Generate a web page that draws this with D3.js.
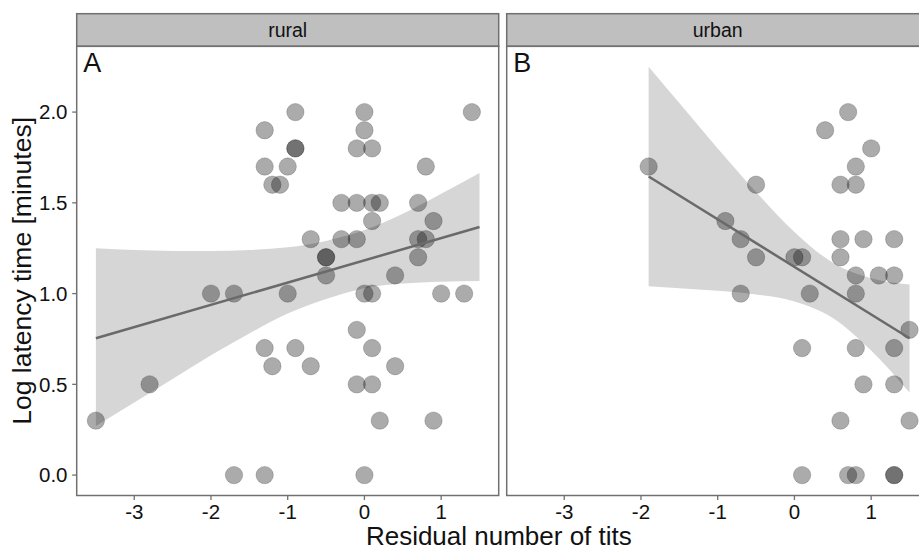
<!DOCTYPE html>
<html>
<head>
<meta charset="utf-8">
<script src="https://cdn.jsdelivr.net/npm/d3@7"></script>
<style>
  body { margin: 0; background: #fff; }
  text { font-family: "Liberation Sans", Arial, sans-serif; fill: #111; }
</style>
</head>
<body>
<svg width="919" height="550"></svg>
<script>
// facet names and panel letters
var facets = ["rural", "urban"];
var letters = ["A", "B"];

// tick values
var xTicks = [-3, -2, -1, 0, 1];
var yTicks = [0, 0.5, 1, 1.5, 2];

// points: residual number of tits vs log latency
var ruralX = [-3.5, -2.8, -2.0, -1.7, -1.7, -1.3, -1.3, -1.3, -1.3, -1.2, -1.2, -1.1, -1.0, -1.0,
  -0.9, -0.9, -0.9, -0.9, -0.7, -0.7, -0.5, -0.5, -0.5, -0.3, -0.3, -0.1, -0.1, -0.1, -0.1, -0.1,
  0.0, 0.0, 0.0, 0.0, 0.1, 0.1, 0.1, 0.1, 0.1, 0.1, 0.2, 0.2, 0.4, 0.4, 0.7, 0.7, 0.7, 0.8, 0.8,
  0.9, 0.9, 1.0, 1.3, 1.4];
var ruralY = [0.3, 0.5, 1.0, 1.0, 0.0, 1.9, 1.7, 0.7, 0.0, 1.6, 0.6, 1.6, 1.7, 1.0,
  2.0, 1.8, 1.8, 0.7, 1.3, 0.6, 1.2, 1.2, 1.1, 1.5, 1.3, 1.8, 1.5, 1.3, 0.8, 0.5,
  2.0, 1.9, 1.0, 0.0, 1.8, 1.5, 1.4, 1.0, 0.7, 0.5, 1.5, 0.3, 1.1, 0.6, 1.5, 1.3, 1.2, 1.7, 1.3,
  1.4, 0.3, 1.0, 1.0, 2.0];

var urbanX = [-1.9, -0.9, -0.7, -0.7, -0.5, -0.5, 0.0, 0.1, 0.1, 0.1, 0.2, 0.4, 0.6, 0.6, 0.6, 0.6,
  0.7, 0.7, 0.8, 0.8, 0.8, 0.8, 0.8, 0.8, 0.9, 0.9, 1.0, 1.1, 1.3, 1.3, 1.3, 1.3, 1.3, 1.3, 1.5, 1.5];
var urbanY = [1.7, 1.4, 1.3, 1.0, 1.6, 1.2, 1.2, 1.2, 0.7, 0.0, 1.0, 1.9, 1.6, 1.3, 1.2, 0.3,
  2.0, 0.0, 1.7, 1.6, 1.1, 1.0, 0.7, 0.0, 1.3, 0.5, 1.8, 1.1, 1.3, 1.1, 0.7, 0.5, 0.0, 0.0, 0.8, 0.3];

// fitted lines
var ruralFitX = [-3.5, 1.5];
var ruralFitY = [0.754, 1.367];
var urbanFitX = [-1.9, 1.5];
var urbanFitY = [1.645, 0.754];

// confidence bands
var ruralBandX = [-3.5, -3, -2.5, -2, -1.5, -1, -0.5, 0, 0.5, 1, 1.5];
var ruralBandLo = [0.27, 0.40, 0.53, 0.66, 0.78, 0.89, 0.97, 1.03, 1.055, 1.065, 1.07];
var ruralBandHi = [1.25, 1.24, 1.235, 1.235, 1.24, 1.255, 1.29, 1.35, 1.44, 1.55, 1.665];
var urbanBandX = [-1.9, -1.5, -1, -0.5, 0, 0.5, 1, 1.5];
var urbanBandLo = [1.04, 1.03, 1.015, 0.995, 0.957, 0.866, 0.686, 0.455];
var urbanBandHi = [2.25, 2.05, 1.80, 1.56, 1.34, 1.17, 1.085, 1.05];

var panelData = [
  {x: ruralX, y: ruralY, fx: ruralFitX, fy: ruralFitY, bx: ruralBandX, blo: ruralBandLo, bhi: ruralBandHi},
  {x: urbanX, y: urbanY, fx: urbanFitX, fy: urbanFitY, bx: urbanBandX, blo: urbanBandLo, bhi: urbanBandHi}
];

svg = d3.select("svg");
panelLeft = [76.7, 506.7];
panelW = 422;
stripTop = 13.7;
stripBot = 46.3;
panelBot = 495.5;
border = "#707070";

yScale = d3.scaleLinear().domain([-0.1125, 2.3625]).range([panelBot, stripBot]);

// y axis title
svg.append("text")
  .attr("transform", "translate(31," + ((stripBot + panelBot) / 2) + ") rotate(-90)")
  .attr("text-anchor", "middle")
  .style("font-size", "26.5px")
  .text("Log latency time [minutes]");

// x axis title
svg.append("text")
  .attr("x", (panelLeft[0] + 919) / 2 + 1)
  .attr("y", 545)
  .attr("text-anchor", "middle")
  .style("font-size", "26px")
  .text("Residual number of tits");

facets.forEach(function(name, i) {
  var d = panelData[i];
  var x0 = panelLeft[i];
  var xScale = d3.scaleLinear().domain([-3.75, 1.75]).range([x0, x0 + panelW]);
  var g = svg.append("g");

  // strip
  g.append("rect")
    .attr("x", x0).attr("y", stripTop)
    .attr("width", panelW).attr("height", stripBot - stripTop)
    .attr("fill", "#bfbfbf").attr("stroke", border).attr("stroke-width", 1.5);
  g.append("text")
    .attr("x", x0 + panelW / 2).attr("y", 36.8)
    .attr("text-anchor", "middle")
    .style("font-size", "19.5px")
    .text(name);

  // confidence band
  var band = d3.area()
    .x(function(v, k) { return xScale(d.bx[k]); })
    .y0(function(v, k) { return yScale(d.blo[k]); })
    .y1(function(v, k) { return yScale(d.bhi[k]); })
    .curve(d3.curveMonotoneX);
  g.append("path")
    .attr("d", band(d.bx))
    .attr("fill", "#999").attr("fill-opacity", 0.4);

  // points
  g.selectAll("circle")
    .data(d.x)
    .enter()
    .append("circle")
    .attr("cx", function(v) { return xScale(v); })
    .attr("cy", function(v, k) { return yScale(d.y[k]); })
    .attr("r", 8.7)
    .attr("fill", "#000").attr("fill-opacity", 0.33)
    .attr("stroke", "#000").attr("stroke-opacity", 0.18).attr("stroke-width", 1);

  // fitted line
  g.append("path")
    .attr("d", d3.line()
      .x(function(v) { return xScale(v); })
      .y(function(v, k) { return yScale(d.fy[k]); })(d.fx))
    .attr("fill", "none").attr("stroke", "#6a6a6a").attr("stroke-width", 2.5);

  // panel border
  g.append("rect")
    .attr("x", x0).attr("y", stripBot)
    .attr("width", panelW).attr("height", panelBot - stripBot)
    .attr("fill", "none").attr("stroke", border).attr("stroke-width", 1.5);

  // panel letter
  g.append("text")
    .attr("x", x0 + 6.5).attr("y", 71.5)
    .style("font-size", "27px")
    .text(letters[i]);

  // x ticks
  var xt = g.append("g")
    .selectAll("g").data(xTicks).enter().append("g")
    .attr("transform", function(v) { return "translate(" + xScale(v) + ",0)"; });
  xt.append("line")
    .attr("y1", panelBot).attr("y2", panelBot + 4.5)
    .attr("stroke", border).attr("stroke-width", 1.3);
  xt.append("text")
    .attr("y", 518.8).attr("text-anchor", "middle")
    .style("font-size", "20.5px")
    .text(function(v) { return v; });
});

// y ticks on left panel only
var yt = svg.append("g")
  .selectAll("g").data(yTicks).enter().append("g")
  .attr("transform", function(v) { return "translate(0," + yScale(v) + ")"; });
yt.append("line")
  .attr("x1", panelLeft[0] - 4.5).attr("x2", panelLeft[0])
  .attr("stroke", border).attr("stroke-width", 1.3);
yt.append("text")
  .attr("x", 67.5).attr("y", 7.2).attr("text-anchor", "end")
  .style("font-size", "20.5px")
  .text(function(v) { return d3.format(".1f")(v); });
</script>
</body>
</html>
